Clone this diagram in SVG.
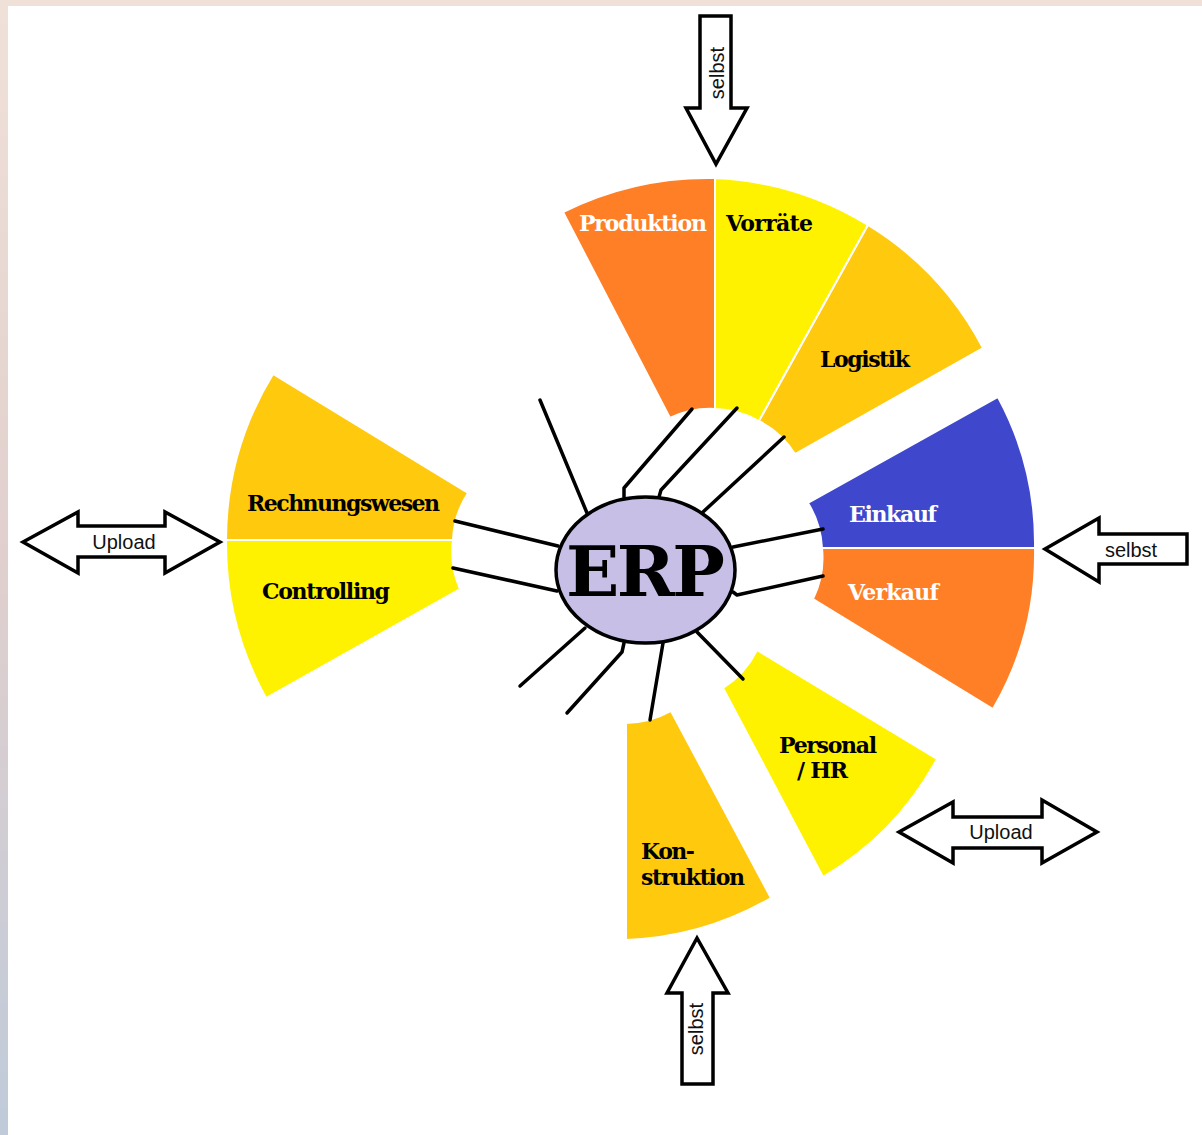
<svg xmlns="http://www.w3.org/2000/svg" width="1202" height="1135" viewBox="0 0 1202 1135">
<defs>
<linearGradient id="bg" x1="0" y1="0" x2="0" y2="1">
<stop offset="0" stop-color="#F0E1D8"/>
<stop offset="0.5" stop-color="#E0CFCD"/>
<stop offset="1" stop-color="#BFCBDA"/>
</linearGradient>
</defs>
<style>
.sec{stroke:#fff;stroke-width:2}
.or{fill:#FF7F27}.ye{fill:#FFF200}.go{fill:#FFC90E}.bl{fill:#3F48CC}
.lbl{font-family:"DejaVu Serif","Liberation Serif",serif;font-weight:bold;font-size:22px;fill:#000}
.wh{fill:#fff}
.spoke{fill:none;stroke:#000;stroke-width:3.5;stroke-linecap:round;stroke-linejoin:round}
.arr{fill:#fff;stroke:#000;stroke-width:3.5;stroke-linejoin:miter}
.at{font-family:"Liberation Sans",Arial,sans-serif;font-size:20px;fill:#111}
</style>
<rect x="0" y="0" width="1202" height="1135" fill="url(#bg)"/>
<rect x="8" y="6" width="1194" height="1129" fill="#fff"/>

<g id="produktion">
<path class="sec or" d="M563 212 A325 325 0 0 1 715 178 L715 409 A93 93 0 0 0 670 418 Z"/>
<text class="lbl wh" x="579" y="231" textLength="128">Produktion</text>
</g>
<g id="vorraete">
<path class="sec ye" d="M715 178 A320 320 0 0 1 868 225 L759 421 A93 93 0 0 0 715 409 Z"/>
<text class="lbl" x="726" y="231" textLength="87">Vorräte</text>
</g>
<g id="logistik">
<path class="sec go" d="M868 225 A315 315 0 0 1 983 348 L795 454 A93 93 0 0 0 759 421 Z"/>
<text class="lbl" x="820" y="367" textLength="90">Logistik</text>
</g>
<g id="einkauf">
<path class="sec bl" d="M998 397 A308 308 0 0 1 1035 548 L822 548 A94 94 0 0 0 808 503 Z"/>
<text class="lbl wh" x="849" y="522" textLength="88">Einkauf</text>
</g>
<g id="verkauf">
<path class="sec or" d="M1035 548 A308 308 0 0 1 993 709 L813 599 A94 94 0 0 0 822 548 Z"/>
<text class="lbl wh" x="848" y="600" textLength="91">Verkauf</text>
</g>
<g id="rechnungswesen">
<path class="sec go" d="M273 374 A320 320 0 0 0 226 540 L453 540 A93 93 0 0 1 468 493 Z"/>
<text class="lbl" x="247" y="511" textLength="193">Rechnungswesen</text>
</g>
<g id="controlling">
<path class="sec ye" d="M226 540 A320 320 0 0 0 266 698 L460 589 A93 93 0 0 1 453 540 Z"/>
<text class="lbl" x="262" y="599" textLength="128">Controlling</text>
</g>
<g id="konstruktion">
<path class="sec go" d="M626 723 L626 940 A312 312 0 0 0 771 898 L671 711 A95 95 0 0 1 626 723 Z"/>
<text class="lbl" x="641" y="859" textLength="54">Kon-</text>
<text class="lbl" x="641" y="885" textLength="104">struktion</text>
</g>
<g id="personal">
<path class="sec ye" d="M757 650 L937 759 A305 305 0 0 1 823 877 L723 688 A95 95 0 0 0 757 650 Z"/>
<text class="lbl" x="779" y="753" textLength="98">Personal</text>
<text class="lbl" x="797" y="778" textLength="51">/ HR</text>
</g>

<g id="connectors">
<path class="spoke" d="M540 400 L587 513"/>
<path class="spoke" d="M692 409 L624 488 L624 497"/>
<path class="spoke" d="M737 408 L661 490 L659 497"/>
<path class="spoke" d="M784 437 L703 512"/>
<path class="spoke" d="M823 529 L733 547"/>
<path class="spoke" d="M823 576 L737 595 L733 592"/>
<path class="spoke" d="M697 632 L743 679"/>
<path class="spoke" d="M663 643 L650 720"/>
<path class="spoke" d="M624 643 L622 652 L567 713"/>
<path class="spoke" d="M585 628 L520 686"/>
<path class="spoke" d="M455 521 L558 546"/>
<path class="spoke" d="M453 568 L557 591"/>
</g>

<g id="erp">
<ellipse cx="645.5" cy="570" rx="89.5" ry="73" fill="#C8BFE7" stroke="#000" stroke-width="3.5"/>
<text x="566" y="596" textLength="159" font-family="DejaVu Serif, Liberation Serif, serif" font-weight="bold" font-size="70" fill="#000">ERP</text>
</g>

<g id="arrow-top">
<polygon class="arr" points="700,16 731,16 731,108 747,108 716,164 686,108 700,108"/>
<text class="at" transform="translate(724,73) rotate(-90)" text-anchor="middle">selbst</text>
</g>
<g id="arrow-right">
<polygon class="arr" points="1045,549 1099,518 1099,534 1187,534 1187,564 1099,564 1099,582"/>
<text class="at" x="1131" y="557" text-anchor="middle">selbst</text>
</g>
<g id="arrow-left">
<polygon class="arr" points="23,542 78,512 78,526 165,526 165,512 220,542 165,573 165,557 78,557 78,573"/>
<text class="at" x="124" y="549" text-anchor="middle">Upload</text>
</g>
<g id="arrow-bottom-right">
<polygon class="arr" points="899,832 953,802 953,817 1042,817 1042,800 1097,832 1042,863 1042,848 953,848 953,863"/>
<text class="at" x="1001" y="839" text-anchor="middle">Upload</text>
</g>
<g id="arrow-bottom">
<polygon class="arr" points="697,938 728,993 713,993 713,1084 682,1084 682,993 667,993"/>
<text class="at" transform="translate(703,1029) rotate(-90)" text-anchor="middle">selbst</text>
</g>
</svg>
